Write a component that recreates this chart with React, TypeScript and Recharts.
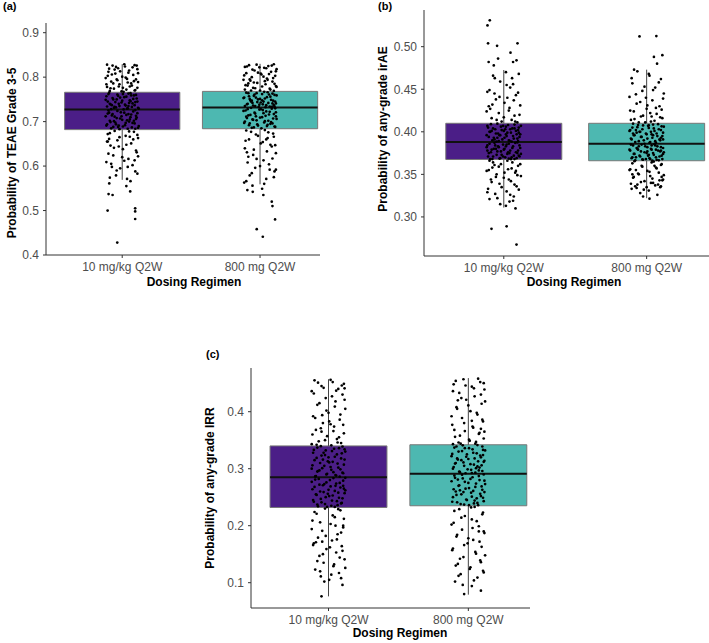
import React from 'react';
import { ComposedChart, ReferenceArea, ReferenceLine, Scatter, XAxis, YAxis } from 'recharts';

const regimens = ['10 mg/kg Q2W', '800 mg Q2W'];
const boxColors = ['#4B1E87', '#4DB8B1'];

// box stats per regimen: q1, median, q3, whisker low, whisker high
const teaeStats = [
  { q1: 0.682, median: 0.727, q3: 0.766, low: 0.569, high: 0.829 },
  { q1: 0.684, median: 0.732, q3: 0.768, low: 0.559, high: 0.83 }
];
const iraeStats = [
  { q1: 0.3675, median: 0.388, q3: 0.41, low: 0.311, high: 0.4726 },
  { q1: 0.366, median: 0.386, q3: 0.41, low: 0.322, high: 0.473 }
];
const irrStats = [
  { q1: 0.232, median: 0.285, q3: 0.34, low: 0.076, high: 0.457 },
  { q1: 0.235, median: 0.291, q3: 0.342, low: 0.079, high: 0.459 }
];

const teaeTicks = [0.4, 0.5, 0.6, 0.7, 0.8, 0.9];
const iraeTicks = [0.3, 0.35, 0.4, 0.45, 0.5];
const irrTicks = [0.1, 0.2, 0.3, 0.4];

// jittered simulated points: [horizontal jitter, probability]
const teae10: number[][] = [
  [-0.11, 0.828], [-0.07, 0.826], [0.02, 0.824], [0.09, 0.827], [-0.03, 0.82], [0.11, 0.818], [-0.1, 0.812], [0.05, 0.815],
  [-0.05, 0.808], [0.08, 0.805], [0.0, 0.801], [-0.12, 0.798], [0.1, 0.795], [-0.08, 0.79], [0.04, 0.788], [-0.02, 0.784],
  [0.07, 0.781], [-0.11, 0.778], [0.11, 0.776], [-0.06, 0.774], [0.03, 0.772], [0.09, 0.77], [-0.09, 0.769], [0.01, 0.767],
  [-0.04, 0.795], [0.06, 0.764], [-0.1, 0.762], [0.1, 0.76], [-0.03, 0.758], [0.03, 0.756], [-0.07, 0.753], [0.08, 0.751],
  [-0.12, 0.749], [0.0, 0.747], [0.11, 0.745], [-0.05, 0.744], [0.05, 0.742], [-0.09, 0.74], [0.02, 0.738], [0.09, 0.737],
  [-0.02, 0.735], [-0.11, 0.734], [0.07, 0.733], [-0.06, 0.731], [0.04, 0.73], [0.12, 0.729], [-0.08, 0.728], [0.01, 0.7275],
  [-0.04, 0.75], [0.06, 0.746], [-0.1, 0.725], [0.08, 0.723], [-0.01, 0.721], [0.11, 0.719], [-0.07, 0.717], [0.03, 0.715],
  [-0.12, 0.712], [0.06, 0.71], [-0.04, 0.708], [0.1, 0.706], [0.0, 0.704], [-0.09, 0.702], [0.05, 0.7], [-0.05, 0.698],
  [0.09, 0.696], [-0.11, 0.694], [0.02, 0.692], [0.12, 0.69], [-0.03, 0.688], [0.07, 0.687], [-0.08, 0.685], [0.04, 0.684],
  [-0.02, 0.683], [0.1, 0.713], [-0.06, 0.701], [0.05, 0.678], [-0.09, 0.674], [0.11, 0.67], [-0.02, 0.665], [0.08, 0.66],
  [-0.11, 0.655], [0.03, 0.648], [-0.06, 0.641], [0.1, 0.635], [-0.1, 0.628], [0.0, 0.62], [0.09, 0.613], [-0.08, 0.605],
  [0.04, 0.598], [-0.04, 0.59], [0.11, 0.583], [-0.09, 0.574], [0.06, 0.566], [-0.094, 0.561], [0.03, 0.555], [-0.099, 0.537],
  [-0.07, 0.535], [0.058, 0.543], [-0.106, 0.5], [0.094, 0.505], [0.094, 0.498], [0.094, 0.481], [-0.036, 0.428]
];
const teae10More: number[][] = [
  [0.015, 0.829], [-0.045, 0.823], [0.075, 0.822], [-0.095, 0.819], [0.105, 0.826], [-0.015, 0.813], [0.045, 0.81], [-0.075, 0.806],
  [0.115, 0.809], [-0.105, 0.803], [0.025, 0.799], [-0.035, 0.793], [0.085, 0.791], [-0.065, 0.786], [0.055, 0.779], [-0.115, 0.784],
  [0.005, 0.776], [0.095, 0.771], [-0.025, 0.779], [0.035, 0.796], [-0.085, 0.775], [0.065, 0.786], [-0.055, 0.817], [0.115, 0.789],
  [-0.005, 0.768], [-0.095, 0.765], [0.045, 0.763], [-0.035, 0.761], [0.085, 0.759], [-0.115, 0.757], [0.015, 0.755], [0.105, 0.752],
  [-0.065, 0.75], [0.055, 0.748], [-0.005, 0.743], [0.075, 0.741], [-0.085, 0.739], [0.025, 0.736], [-0.045, 0.732], [0.115, 0.731],
  [-0.105, 0.745], [0.035, 0.729], [-0.015, 0.754], [0.095, 0.744], [-0.075, 0.737], [0.065, 0.759], [-0.025, 0.74], [0.005, 0.762],
  [-0.055, 0.733], [0.045, 0.735], [0.095, 0.726], [-0.035, 0.724], [0.015, 0.72], [-0.105, 0.718], [0.065, 0.716], [-0.055, 0.711],
  [0.105, 0.709], [-0.015, 0.707], [0.035, 0.703], [-0.085, 0.699], [0.075, 0.697], [-0.115, 0.691], [0.005, 0.689], [0.115, 0.686],
  [-0.045, 0.694], [0.055, 0.705], [-0.075, 0.714], [0.025, 0.697], [-0.025, 0.691], [0.085, 0.702], [-0.095, 0.72], [0.045, 0.717],
  [-0.065, 0.688], [0.095, 0.684], [-0.005, 0.712], [-0.055, 0.679], [0.085, 0.677], [-0.105, 0.672], [0.025, 0.668], [0.115, 0.663],
  [-0.035, 0.658], [0.065, 0.651], [-0.085, 0.646], [0.005, 0.638], [0.105, 0.631], [-0.065, 0.624], [0.045, 0.616], [-0.115, 0.609],
  [0.075, 0.602], [-0.015, 0.595], [0.095, 0.588], [-0.045, 0.579], [0.035, 0.571], [-0.105, 0.655], [0.055, 0.666], [-0.025, 0.644],
  [0.115, 0.622], [-0.075, 0.598], [0.015, 0.612], [-0.095, 0.661]
];
const teae800: number[][] = [
  [0.1, 0.829], [-0.08, 0.827], [0.06, 0.825], [-0.11, 0.823], [0.03, 0.821], [0.12, 0.818], [-0.04, 0.815], [0.08, 0.812],
  [-0.1, 0.809], [0.01, 0.806], [0.11, 0.803], [-0.06, 0.8], [0.05, 0.797], [-0.12, 0.794], [0.09, 0.79], [-0.02, 0.787],
  [0.04, 0.784], [-0.09, 0.781], [0.12, 0.778], [-0.05, 0.776], [0.07, 0.774], [-0.11, 0.772], [0.0, 0.77], [0.1, 0.769],
  [-0.07, 0.792], [0.03, 0.767], [-0.1, 0.765], [0.09, 0.763], [-0.04, 0.761], [0.12, 0.759], [-0.08, 0.757], [0.05, 0.755],
  [-0.12, 0.753], [0.0, 0.751], [0.08, 0.749], [-0.06, 0.747], [0.11, 0.745], [-0.02, 0.744], [0.06, 0.742], [-0.09, 0.74],
  [0.02, 0.739], [0.1, 0.737], [-0.05, 0.736], [-0.11, 0.735], [0.07, 0.734], [-0.01, 0.733], [0.04, 0.7325], [-0.07, 0.748],
  [0.09, 0.741], [-0.03, 0.754], [0.11, 0.73], [-0.09, 0.728], [0.02, 0.726], [-0.12, 0.724], [0.07, 0.722], [-0.04, 0.72],
  [0.1, 0.717], [-0.07, 0.715], [0.04, 0.713], [-0.1, 0.711], [0.0, 0.709], [0.12, 0.706], [-0.05, 0.704], [0.06, 0.702],
  [-0.11, 0.7], [0.03, 0.698], [0.09, 0.696], [-0.02, 0.694], [-0.08, 0.692], [0.05, 0.69], [0.11, 0.688], [-0.06, 0.686],
  [0.01, 0.685], [-0.03, 0.712], [0.08, 0.699], [-0.1, 0.68], [0.06, 0.676], [-0.03, 0.671], [0.1, 0.666], [-0.08, 0.66],
  [0.02, 0.654], [0.11, 0.647], [-0.11, 0.64], [0.05, 0.633], [-0.05, 0.625], [0.09, 0.617], [-0.09, 0.608], [0.0, 0.6],
  [0.07, 0.592], [-0.06, 0.584], [0.1, 0.575], [-0.1, 0.566], [0.03, 0.56], [-0.092, 0.546], [-0.053, 0.542], [0.024, 0.535],
  [0.085, 0.52], [0.09, 0.51], [0.109, 0.48], [-0.024, 0.458], [0.02, 0.441]
];
const teae800More: number[][] = [
  [-0.025, 0.828], [0.085, 0.826], [-0.095, 0.824], [0.045, 0.82], [-0.055, 0.817], [0.115, 0.813], [-0.015, 0.81], [0.065, 0.807],
  [-0.115, 0.804], [0.025, 0.801], [0.095, 0.798], [-0.075, 0.795], [0.035, 0.791], [-0.045, 0.788], [0.105, 0.785], [-0.105, 0.782],
  [0.015, 0.779], [-0.035, 0.775], [0.075, 0.772], [-0.065, 0.77], [0.055, 0.794], [-0.005, 0.822], [0.115, 0.78], [-0.085, 0.786],
  [0.005, 0.808], [0.055, 0.766], [-0.085, 0.764], [0.015, 0.762], [0.105, 0.76], [-0.045, 0.758], [0.075, 0.756], [-0.115, 0.754],
  [0.035, 0.752], [-0.015, 0.75], [0.095, 0.747], [-0.065, 0.745], [0.005, 0.743], [0.115, 0.741], [-0.095, 0.739], [0.045, 0.737],
  [-0.035, 0.735], [0.085, 0.733], [-0.075, 0.751], [0.025, 0.745], [-0.005, 0.738], [0.065, 0.761], [-0.055, 0.742], [0.105, 0.734],
  [-0.025, 0.764], [0.015, 0.748], [-0.065, 0.731], [0.085, 0.729], [-0.005, 0.727], [-0.105, 0.725], [0.045, 0.723], [0.115, 0.721],
  [-0.035, 0.718], [0.065, 0.716], [-0.085, 0.714], [0.015, 0.71], [0.095, 0.707], [-0.055, 0.705], [0.035, 0.701], [-0.115, 0.697],
  [0.075, 0.695], [-0.015, 0.691], [0.105, 0.689], [-0.045, 0.687], [0.025, 0.719], [-0.095, 0.708], [0.055, 0.693], [-0.025, 0.703],
  [0.005, 0.728], [-0.075, 0.696], [0.115, 0.712], [0.035, 0.681], [-0.065, 0.677], [0.095, 0.673], [-0.015, 0.668], [0.055, 0.663],
  [-0.105, 0.657], [0.005, 0.651], [0.085, 0.644], [-0.045, 0.637], [0.115, 0.629], [-0.085, 0.621], [0.025, 0.613], [0.065, 0.604],
  [-0.035, 0.596], [0.105, 0.588], [-0.075, 0.579], [0.045, 0.571], [-0.115, 0.563], [0.015, 0.549], [-0.055, 0.556], [0.075, 0.648],
  [-0.025, 0.616], [0.115, 0.592], [-0.095, 0.631], [0.045, 0.66]
];
const irae10: number[][] = [
  [-0.098, 0.531], [-0.114, 0.525], [-0.11, 0.504], [-0.047, 0.501], [0.096, 0.504], [0.047, 0.493], [-0.106, 0.482], [-0.07, 0.478],
  [-0.04, 0.486], [0.065, 0.482], [0.089, 0.484], [-0.063, 0.463], [0.058, 0.463], [0.02, 0.455], [-0.1, 0.449], [0.1, 0.446],
  [-0.03, 0.441], [0.07, 0.437], [-0.08, 0.432], [0.04, 0.428], [-0.12, 0.424], [0.11, 0.42], [0.0, 0.417], [-0.05, 0.414],
  [0.08, 0.412], [-0.09, 0.409], [0.03, 0.408], [0.12, 0.407], [-0.02, 0.406], [-0.11, 0.405], [0.06, 0.404], [-0.06, 0.403],
  [0.1, 0.402], [0.0, 0.401], [-0.1, 0.4], [0.05, 0.399], [-0.04, 0.398], [0.09, 0.397], [-0.12, 0.396], [0.02, 0.395],
  [0.11, 0.394], [-0.07, 0.393], [0.07, 0.392], [-0.01, 0.391], [-0.08, 0.39], [0.04, 0.3895], [0.1, 0.389], [-0.05, 0.3885],
  [0.01, 0.403], [-0.03, 0.396], [0.08, 0.387], [-0.1, 0.386], [0.02, 0.385], [0.11, 0.384], [-0.04, 0.383], [-0.12, 0.382],
  [0.06, 0.381], [-0.07, 0.38], [0.0, 0.379], [0.1, 0.378], [-0.02, 0.377], [-0.09, 0.376], [0.04, 0.375], [0.12, 0.374],
  [-0.05, 0.373], [0.07, 0.372], [-0.11, 0.371], [0.01, 0.37], [0.09, 0.369], [-0.03, 0.3685], [-0.08, 0.368], [0.05, 0.3678],
  [-0.06, 0.384], [0.03, 0.376], [0.11, 0.371], [-0.1, 0.366], [0.06, 0.364], [-0.02, 0.362], [0.1, 0.36], [-0.08, 0.358],
  [0.03, 0.356], [-0.12, 0.354], [0.08, 0.352], [-0.05, 0.35], [0.12, 0.348], [0.0, 0.346], [-0.09, 0.344], [0.05, 0.342],
  [-0.03, 0.339], [0.09, 0.336], [-0.11, 0.333], [0.02, 0.33], [-0.06, 0.327], [0.07, 0.324], [-0.1, 0.321], [0.04, 0.318],
  [0.082, 0.31], [0.02, 0.289], [-0.086, 0.286], [0.089, 0.2675]
];
const irae10More: number[][] = [
  [0.015, 0.47], [-0.075, 0.466], [0.105, 0.468], [-0.025, 0.459], [0.045, 0.452], [-0.115, 0.447], [0.085, 0.443], [-0.055, 0.438],
  [0.005, 0.434], [0.115, 0.431], [-0.095, 0.427], [0.035, 0.425], [-0.035, 0.422], [0.075, 0.419], [-0.085, 0.416], [0.055, 0.414],
  [-0.015, 0.412], [0.095, 0.411], [-0.065, 0.445], [0.025, 0.44], [-0.105, 0.43], [0.065, 0.456], [-0.045, 0.4095], [0.075, 0.4085],
  [-0.115, 0.407], [0.015, 0.406], [0.105, 0.405], [-0.075, 0.404], [0.045, 0.403], [-0.015, 0.402], [0.085, 0.401], [-0.095, 0.4],
  [0.025, 0.399], [-0.055, 0.398], [0.115, 0.397], [-0.025, 0.396], [0.065, 0.395], [-0.105, 0.394], [0.005, 0.393], [0.095, 0.392],
  [-0.065, 0.391], [0.035, 0.39], [-0.035, 0.389], [0.055, 0.3885], [-0.085, 0.401], [0.015, 0.397], [0.075, 0.404], [-0.005, 0.407],
  [0.105, 0.399], [-0.045, 0.393], [0.095, 0.3875], [-0.065, 0.387], [0.035, 0.386], [-0.005, 0.385], [-0.115, 0.384], [0.065, 0.383],
  [-0.035, 0.382], [0.115, 0.381], [0.005, 0.38], [-0.085, 0.379], [0.045, 0.378], [-0.045, 0.377], [0.085, 0.376], [-0.105, 0.375],
  [0.025, 0.374], [-0.015, 0.373], [0.105, 0.372], [-0.075, 0.371], [0.055, 0.37], [-0.025, 0.369], [0.075, 0.368], [-0.095, 0.3678],
  [0.015, 0.383], [-0.055, 0.38], [0.095, 0.375], [-0.005, 0.371], [0.035, 0.3685], [-0.115, 0.378], [0.025, 0.366], [-0.075, 0.364],
  [0.115, 0.362], [-0.035, 0.359], [0.055, 0.357], [-0.105, 0.355], [0.005, 0.352], [0.095, 0.349], [-0.055, 0.347], [0.035, 0.344],
  [-0.085, 0.341], [0.075, 0.338], [-0.015, 0.335], [0.105, 0.332], [-0.115, 0.329], [0.045, 0.326], [-0.045, 0.322], [0.065, 0.319],
  [-0.025, 0.315], [0.015, 0.313], [-0.065, 0.361], [0.085, 0.354]
];
const irae800: number[][] = [
  [-0.05, 0.512], [0.068, 0.5125], [0.051, 0.488], [0.11, 0.49], [0.073, 0.48], [-0.088, 0.473], [-0.065, 0.471], [0.02, 0.466],
  [0.1, 0.462], [-0.1, 0.457], [0.06, 0.452], [-0.03, 0.448], [0.12, 0.445], [-0.12, 0.441], [0.04, 0.437], [-0.07, 0.433],
  [0.09, 0.43], [0.0, 0.427], [-0.09, 0.424], [0.07, 0.421], [-0.04, 0.418], [0.11, 0.416], [-0.11, 0.414], [0.03, 0.412],
  [-0.01, 0.411], [0.08, 0.409], [-0.06, 0.408], [0.01, 0.407], [0.12, 0.406], [-0.1, 0.405], [0.05, 0.404], [-0.03, 0.403],
  [0.1, 0.402], [-0.12, 0.401], [0.03, 0.4], [-0.07, 0.399], [0.07, 0.398], [0.0, 0.397], [-0.09, 0.396], [0.11, 0.395],
  [-0.04, 0.394], [0.04, 0.393], [-0.11, 0.392], [0.09, 0.391], [-0.02, 0.39], [0.06, 0.389], [-0.08, 0.388], [0.02, 0.387],
  [-0.05, 0.4], [0.1, 0.393], [-0.11, 0.385], [0.06, 0.384], [-0.01, 0.383], [0.1, 0.382], [-0.07, 0.381], [0.03, 0.38],
  [-0.12, 0.379], [0.08, 0.378], [-0.04, 0.377], [0.12, 0.376], [0.0, 0.375], [-0.09, 0.374], [0.05, 0.373], [-0.05, 0.372],
  [0.09, 0.371], [-0.1, 0.37], [0.02, 0.369], [0.11, 0.368], [-0.03, 0.3675], [0.07, 0.367], [-0.08, 0.3665], [0.04, 0.3662],
  [-0.06, 0.379], [0.01, 0.372], [0.1, 0.378], [0.05, 0.365], [-0.1, 0.363], [0.1, 0.361], [-0.03, 0.359], [0.07, 0.357],
  [-0.12, 0.355], [0.02, 0.353], [-0.06, 0.351], [0.12, 0.349], [-0.09, 0.347], [0.04, 0.345], [0.09, 0.343], [-0.04, 0.341],
  [-0.11, 0.339], [0.06, 0.337], [0.0, 0.335], [0.11, 0.343], [-0.08, 0.336], [0.03, 0.34], [-0.02, 0.332], [0.08, 0.338],
  [-0.07, 0.334], [0.1, 0.336], [0.02, 0.3215], [-0.1, 0.35]
];
const irae800More: number[][] = [
  [0.015, 0.468], [-0.105, 0.463], [0.085, 0.458], [-0.015, 0.453], [0.045, 0.449], [-0.075, 0.444], [0.115, 0.439], [-0.045, 0.435],
  [0.005, 0.431], [0.065, 0.428], [-0.115, 0.425], [0.025, 0.422], [-0.025, 0.419], [0.095, 0.417], [-0.085, 0.415], [0.055, 0.413],
  [-0.055, 0.411], [0.105, 0.426], [-0.005, 0.44], [0.035, 0.418], [-0.095, 0.4095], [0.045, 0.4085], [-0.025, 0.4075], [0.105, 0.4065],
  [-0.065, 0.4055], [0.015, 0.4045], [0.085, 0.403], [-0.115, 0.402], [0.055, 0.401], [-0.045, 0.4], [0.115, 0.399], [-0.005, 0.398],
  [0.035, 0.397], [-0.085, 0.396], [0.075, 0.395], [-0.035, 0.394], [0.005, 0.392], [-0.105, 0.391], [0.095, 0.39], [-0.055, 0.389],
  [0.025, 0.388], [0.065, 0.387], [-0.015, 0.386], [-0.075, 0.402], [0.045, 0.396], [0.115, 0.391], [-0.095, 0.398], [0.015, 0.4075],
  [0.055, 0.3855], [-0.035, 0.385], [-0.095, 0.384], [0.075, 0.383], [0.005, 0.382], [0.115, 0.381], [-0.065, 0.38], [0.035, 0.379],
  [-0.115, 0.378], [0.095, 0.377], [-0.015, 0.376], [0.045, 0.375], [-0.085, 0.374], [0.015, 0.373], [0.105, 0.372], [-0.045, 0.371],
  [0.065, 0.37], [-0.105, 0.369], [0.025, 0.368], [-0.025, 0.3672], [0.085, 0.3665], [-0.055, 0.383], [0.005, 0.377], [0.115, 0.374],
  [-0.075, 0.37], [0.035, 0.384], [-0.005, 0.368], [0.065, 0.379], [-0.085, 0.3655], [0.035, 0.364], [0.105, 0.362], [-0.035, 0.36],
  [0.065, 0.358], [-0.115, 0.356], [0.005, 0.354], [0.085, 0.352], [-0.055, 0.35], [0.025, 0.348], [-0.095, 0.346], [0.115, 0.344],
  [-0.015, 0.342], [0.045, 0.34], [-0.065, 0.338], [0.095, 0.335], [-0.105, 0.333], [0.015, 0.331], [-0.045, 0.328], [0.075, 0.326],
  [-0.025, 0.324], [0.055, 0.36], [-0.075, 0.355], [0.105, 0.347]
];
const irr10: number[][] = [
  [-0.1, 0.455], [0.03, 0.452], [0.11, 0.449], [-0.05, 0.445], [0.07, 0.44], [-0.12, 0.436], [0.1, 0.43], [-0.02, 0.424],
  [0.05, 0.418], [-0.08, 0.412], [0.12, 0.405], [0.0, 0.398], [-0.11, 0.392], [0.08, 0.386], [-0.04, 0.38], [0.04, 0.374],
  [-0.09, 0.368], [0.11, 0.362], [-0.01, 0.357], [0.06, 0.352], [-0.07, 0.348], [0.09, 0.345], [-0.12, 0.343], [0.02, 0.341],
  [-0.05, 0.365], [0.1, 0.339], [-0.08, 0.337], [0.04, 0.335], [-0.02, 0.332], [0.12, 0.33], [-0.11, 0.328], [0.06, 0.325],
  [-0.05, 0.323], [0.0, 0.32], [0.09, 0.318], [-0.1, 0.315], [0.03, 0.312], [-0.06, 0.31], [0.11, 0.307], [-0.03, 0.305],
  [0.07, 0.302], [-0.12, 0.3], [0.02, 0.298], [-0.08, 0.295], [0.1, 0.293], [-0.01, 0.291], [0.05, 0.289], [-0.09, 0.287],
  [0.08, 0.286], [-0.04, 0.316], [0.12, 0.284], [-0.07, 0.282], [0.01, 0.28], [-0.12, 0.277], [0.08, 0.275], [-0.03, 0.273],
  [0.05, 0.27], [-0.1, 0.268], [0.11, 0.265], [0.0, 0.263], [-0.06, 0.26], [0.07, 0.258], [-0.09, 0.255], [0.03, 0.253],
  [-0.02, 0.25], [0.1, 0.248], [-0.11, 0.245], [0.06, 0.243], [-0.05, 0.241], [0.09, 0.239], [-0.08, 0.237], [0.02, 0.235],
  [-0.01, 0.233], [0.12, 0.262], [-0.04, 0.271], [0.07, 0.229], [-0.1, 0.224], [0.03, 0.218], [0.11, 0.212], [-0.06, 0.206],
  [0.05, 0.2], [-0.12, 0.194], [0.09, 0.188], [-0.02, 0.182], [0.06, 0.176], [-0.09, 0.171], [-0.11, 0.166], [0.01, 0.162],
  [0.1, 0.156], [-0.04, 0.15], [0.08, 0.144], [-0.08, 0.138], [0.04, 0.132], [0.12, 0.126], [-0.06, 0.12], [0.02, 0.114],
  [0.09, 0.108], [-0.03, 0.102], [0.1, 0.096], [-0.05, 0.076]
];
const irr10More: number[][] = [
  [0.015, 0.456], [-0.075, 0.451], [0.095, 0.446], [-0.035, 0.442], [0.055, 0.437], [-0.105, 0.432], [0.025, 0.427], [0.115, 0.421],
  [-0.065, 0.415], [0.045, 0.409], [-0.015, 0.402], [0.085, 0.395], [-0.095, 0.389], [0.005, 0.383], [0.105, 0.377], [-0.055, 0.371],
  [0.035, 0.366], [-0.115, 0.36], [0.075, 0.355], [-0.025, 0.35], [0.065, 0.346], [-0.085, 0.342], [0.015, 0.378], [0.115, 0.441],
  [-0.045, 0.394], [-0.055, 0.3395], [0.075, 0.336], [-0.105, 0.333], [0.025, 0.331], [0.095, 0.327], [-0.025, 0.324], [0.045, 0.321],
  [-0.085, 0.319], [0.115, 0.316], [-0.005, 0.313], [0.065, 0.309], [-0.115, 0.306], [0.015, 0.303], [-0.045, 0.301], [0.085, 0.299],
  [-0.075, 0.296], [0.035, 0.294], [0.105, 0.292], [-0.015, 0.29], [0.055, 0.288], [-0.095, 0.2865], [0.005, 0.311], [-0.035, 0.328],
  [0.115, 0.334], [-0.065, 0.297], [0.035, 0.2835], [-0.095, 0.281], [0.105, 0.279], [-0.015, 0.276], [0.055, 0.274], [-0.065, 0.272],
  [0.015, 0.269], [0.085, 0.267], [-0.115, 0.264], [0.045, 0.261], [-0.035, 0.259], [0.115, 0.257], [-0.085, 0.254], [0.005, 0.252],
  [0.075, 0.249], [-0.055, 0.247], [0.025, 0.244], [-0.105, 0.242], [0.095, 0.24], [-0.025, 0.238], [0.065, 0.236], [-0.075, 0.234],
  [0.045, 0.233], [-0.005, 0.256], [0.105, 0.27], [-0.025, 0.23], [0.085, 0.227], [-0.085, 0.221], [0.045, 0.215], [-0.115, 0.209],
  [0.015, 0.203], [0.105, 0.197], [-0.045, 0.191], [0.065, 0.185], [-0.075, 0.179], [0.025, 0.174], [-0.105, 0.169], [0.095, 0.164],
  [-0.015, 0.159], [0.055, 0.153], [-0.065, 0.147], [0.115, 0.141], [-0.035, 0.135], [0.035, 0.129], [-0.095, 0.123], [0.075, 0.117],
  [-0.055, 0.111], [0.005, 0.105], [0.105, 0.2], [-0.045, 0.172]
];
const irr800: number[][] = [
  [0.07, 0.458], [-0.09, 0.454], [0.11, 0.45], [-0.02, 0.446], [0.04, 0.441], [-0.11, 0.436], [0.09, 0.43], [-0.05, 0.424],
  [0.12, 0.418], [0.0, 0.411], [-0.08, 0.405], [0.06, 0.398], [-0.12, 0.392], [0.1, 0.386], [-0.03, 0.38], [0.03, 0.374],
  [-0.1, 0.368], [0.08, 0.363], [-0.06, 0.358], [0.11, 0.353], [0.01, 0.349], [-0.07, 0.346], [0.05, 0.344], [-0.11, 0.343],
  [0.09, 0.37], [-0.04, 0.341], [0.1, 0.339], [-0.1, 0.337], [0.03, 0.334], [0.12, 0.332], [-0.07, 0.33], [0.06, 0.327],
  [-0.01, 0.325], [-0.12, 0.322], [0.09, 0.32], [0.0, 0.317], [-0.05, 0.315], [0.11, 0.312], [-0.09, 0.31], [0.04, 0.307],
  [-0.03, 0.305], [0.08, 0.302], [-0.11, 0.3], [0.02, 0.298], [0.1, 0.296], [-0.06, 0.294], [0.05, 0.293], [-0.02, 0.292],
  [0.07, 0.313], [-0.08, 0.318], [0.11, 0.29], [-0.1, 0.288], [0.03, 0.285], [-0.04, 0.283], [0.08, 0.28], [-0.12, 0.278],
  [0.0, 0.275], [0.12, 0.273], [-0.07, 0.27], [0.05, 0.268], [-0.02, 0.265], [0.1, 0.263], [-0.09, 0.26], [0.02, 0.258],
  [-0.05, 0.255], [0.09, 0.252], [-0.11, 0.25], [0.06, 0.248], [-0.01, 0.245], [0.11, 0.243], [-0.08, 0.241], [0.04, 0.239],
  [-0.03, 0.237], [0.07, 0.236], [-0.06, 0.262], [0.02, 0.232], [-0.1, 0.226], [0.1, 0.22], [-0.05, 0.214], [0.06, 0.208],
  [-0.12, 0.202], [0.03, 0.196], [0.11, 0.19], [-0.08, 0.184], [0.0, 0.178], [0.08, 0.172], [-0.03, 0.166], [-0.11, 0.16],
  [0.05, 0.154], [0.12, 0.148], [-0.06, 0.142], [0.09, 0.136], [-0.09, 0.13], [0.01, 0.124], [0.11, 0.118], [-0.07, 0.112],
  [0.04, 0.104], [-0.04, 0.096], [0.09, 0.086], [-0.03, 0.08]
];
const irr800More: number[][] = [
  [-0.035, 0.457], [0.085, 0.452], [-0.105, 0.448], [0.025, 0.444], [0.115, 0.439], [-0.065, 0.433], [0.045, 0.427], [-0.015, 0.421],
  [0.095, 0.414], [-0.085, 0.408], [0.015, 0.401], [0.065, 0.395], [-0.045, 0.389], [0.105, 0.383], [-0.115, 0.377], [0.035, 0.372],
  [-0.025, 0.366], [0.075, 0.361], [-0.095, 0.356], [0.005, 0.351], [0.055, 0.347], [-0.055, 0.344], [0.115, 0.365], [-0.075, 0.42],
  [0.025, 0.384], [0.065, 0.3415], [-0.085, 0.339], [0.005, 0.336], [0.105, 0.333], [-0.045, 0.331], [0.035, 0.328], [-0.115, 0.326],
  [0.085, 0.323], [-0.015, 0.321], [0.045, 0.318], [-0.075, 0.316], [0.115, 0.314], [-0.035, 0.311], [0.015, 0.308], [0.095, 0.306],
  [-0.105, 0.303], [0.055, 0.301], [-0.005, 0.299], [0.075, 0.297], [-0.065, 0.295], [0.025, 0.2925], [-0.095, 0.309], [0.105, 0.324],
  [-0.025, 0.336], [0.065, 0.304], [-0.045, 0.2895], [0.075, 0.287], [-0.095, 0.284], [0.015, 0.282], [0.115, 0.279], [-0.025, 0.277],
  [0.055, 0.274], [-0.065, 0.271], [0.095, 0.269], [0.005, 0.266], [-0.105, 0.264], [0.035, 0.261], [-0.035, 0.259], [0.085, 0.256],
  [-0.085, 0.254], [0.025, 0.251], [0.105, 0.249], [-0.015, 0.246], [0.045, 0.244], [-0.115, 0.242], [0.065, 0.24], [-0.055, 0.238],
  [0.005, 0.236], [0.115, 0.259], [-0.075, 0.281], [0.045, 0.233], [-0.065, 0.229], [0.105, 0.223], [-0.025, 0.217], [0.025, 0.211],
  [-0.105, 0.205], [0.075, 0.199], [-0.045, 0.193], [0.115, 0.187], [-0.085, 0.181], [0.035, 0.175], [-0.005, 0.169], [0.095, 0.163],
  [-0.115, 0.157], [0.055, 0.151], [-0.035, 0.145], [0.085, 0.139], [-0.075, 0.133], [0.015, 0.127], [0.105, 0.121], [-0.055, 0.115],
  [0.065, 0.109], [-0.095, 0.102], [0.025, 0.094], [0.075, 0.19]
];

const font = '"Liberation Sans", Arial, Helvetica, sans-serif';

type Stat = { q1: number; median: number; q3: number; low: number; high: number };

interface PanelProps {
  tag: string;
  tagAt: [number, number];
  yLabel: string;
  yLabelAt: [number, number];
  xTitleAt: [number, number];
  left: number;
  top: number;
  plotW: number;
  plotH: number;
  xDomain: [number, number];
  yDomain: [number, number];
  yTicks: number[];
  digits: number;
  halfWidth: number;
  stats: Stat[];
  clouds: number[][][];
}

const Dot = (props: any) => <circle cx={props.cx} cy={props.cy} r={1.35} fill="#000" />;

function BoxPanel(p: PanelProps) {
  const axisW = 52;
  const axisH = 36;
  const padTop = 2;
  const points = p.clouds.flatMap((cloud, i) => cloud.map(([dx, v]) => ({ x: i + 1 + dx, y: v })));

  return (
    <>
      <div style={{ position: 'absolute', left: p.tagAt[0], top: p.tagAt[1], fontSize: 11, fontWeight: 'bold', fontFamily: font }}>
        {p.tag}
      </div>
      <div
        style={{
          position: 'absolute',
          left: p.yLabelAt[0],
          top: p.yLabelAt[1],
          transform: 'translate(-50%, -50%) rotate(-90deg)',
          whiteSpace: 'nowrap',
          fontSize: 12,
          fontWeight: 'bold',
          fontFamily: font
        }}
      >
        {p.yLabel}
      </div>
      <div
        style={{
          position: 'absolute',
          left: p.xTitleAt[0],
          top: p.xTitleAt[1],
          transform: 'translate(-50%, -50%)',
          whiteSpace: 'nowrap',
          fontSize: 12,
          fontWeight: 'bold',
          fontFamily: font
        }}
      >
        Dosing Regimen
      </div>
      <div style={{ position: 'absolute', left: p.left - axisW, top: p.top - padTop }}>
        <ComposedChart
          width={axisW + p.plotW}
          height={padTop + p.plotH + axisH}
          margin={{ top: padTop, right: 0, bottom: 0, left: 0 }}
          style={{ fontFamily: font }}
        >
          <XAxis
            type="number"
            dataKey="x"
            domain={p.xDomain}
            ticks={[1, 2]}
            tickFormatter={(v: number) => regimens[v - 1]}
            allowDataOverflow
            height={axisH}
            tickSize={3}
            tickMargin={4}
            stroke="#333"
            tick={{ fill: '#4d4d4d', fontSize: 12 }}
          />
          <YAxis
            type="number"
            dataKey="y"
            domain={p.yDomain}
            ticks={p.yTicks}
            tickFormatter={(v: number) => v.toFixed(p.digits)}
            allowDataOverflow
            width={axisW}
            tickSize={3}
            tickMargin={4}
            stroke="#333"
            tick={{ fill: '#4d4d4d', fontSize: 12 }}
          />
          {p.stats.map((s, i) => (
            <ReferenceArea
              key={`box-${i}`}
              x1={i + 1 - p.halfWidth}
              x2={i + 1 + p.halfWidth}
              y1={s.q1}
              y2={s.q3}
              fill={boxColors[i]}
              fillOpacity={1}
              stroke="#777"
              strokeWidth={1}
              ifOverflow="visible"
            />
          ))}
          {p.stats.map((s, i) => (
            <ReferenceLine
              key={`wu-${i}`}
              segment={[{ x: i + 1, y: s.q3 }, { x: i + 1, y: s.high }]}
              stroke="#444"
              strokeWidth={1}
            />
          ))}
          {p.stats.map((s, i) => (
            <ReferenceLine
              key={`wl-${i}`}
              segment={[{ x: i + 1, y: s.low }, { x: i + 1, y: s.q1 }]}
              stroke="#444"
              strokeWidth={1}
            />
          ))}
          {p.stats.map((s, i) => (
            <ReferenceLine
              key={`med-${i}`}
              segment={[{ x: i + 1 - p.halfWidth, y: s.median }, { x: i + 1 + p.halfWidth, y: s.median }]}
              stroke="#111"
              strokeWidth={2}
            />
          ))}
          <Scatter data={points} fill="#000" shape={Dot} isAnimationActive={false} />
        </ComposedChart>
      </div>
    </>
  );
}

export default function App() {
  return (
    <div style={{ position: 'absolute', left: 0, top: 0, width: 709, height: 643, background: '#fff', fontFamily: font }}>
      <BoxPanel
        tag="(a)"
        tagAt={[3, 0]}
        yLabel="Probability of TEAE Grade 3-5"
        yLabelAt={[12, 153]}
        xTitleAt={[194, 282]}
        left={46}
        top={23}
        plotW={274}
        plotH={232}
        xDomain={[0.447, 2.435]}
        yDomain={[0.4, 0.9218]}
        yTicks={teaeTicks}
        digits={1}
        halfWidth={0.418}
        stats={teaeStats}
        clouds={[[...teae10, ...teae10More], [...teae800, ...teae800More]]}
      />
      <BoxPanel
        tag="(b)"
        tagAt={[378, 0]}
        yLabel="Probability of any-grade irAE"
        yLabelAt={[383, 129]}
        xTitleAt={[574, 282]}
        left={424}
        top={10}
        plotW={285}
        plotH={246}
        xDomain={[0.4415, 2.4365]}
        yDomain={[0.2541, 0.5431]}
        yTicks={iraeTicks}
        digits={2}
        halfWidth={0.406}
        stats={iraeStats}
        clouds={[[...irae10, ...irae10More], [...irae800, ...irae800More]]}
      />
      <BoxPanel
        tag="(c)"
        tagAt={[206, 348]}
        yLabel="Probability of any-grade IRR"
        yLabelAt={[210, 488]}
        xTitleAt={[400, 633]}
        left={251}
        top={368}
        plotW={279}
        plotH={240}
        xDomain={[0.4457, 2.441]}
        yDomain={[0.0556, 0.4767]}
        yTicks={irrTicks}
        digits={1}
        halfWidth={0.418}
        stats={irrStats}
        clouds={[[...irr10, ...irr10More], [...irr800, ...irr800More]]}
      />
    </div>
  );
}
